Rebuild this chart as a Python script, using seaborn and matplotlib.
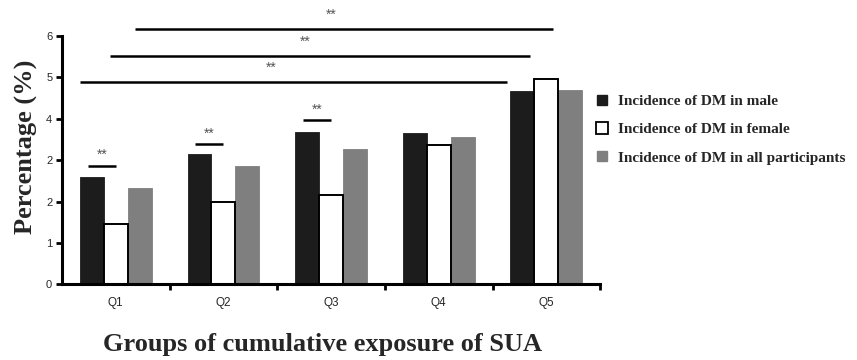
import matplotlib
matplotlib.use('Agg')
import matplotlib.pyplot as plt
import seaborn as sns
import pandas as pd
from matplotlib.lines import Line2D

groups = ['Q1', 'Q2', 'Q3', 'Q4', 'Q5']
series = ['Incidence of DM in male', 'Incidence of DM in female',
          'Incidence of DM in all participants']
male = [2.60, 3.15, 3.69, 3.66, 4.66]
female = [1.46, 2.00, 2.16, 3.36, 4.95]
allp = [2.33, 2.86, 3.28, 3.57, 4.70]
ytick_vals = [0, 1, 2, 3, 4, 5, 6]
ytick_labels = ['0', '1', '2', '2', '4', '5', '6']
xlabel = 'Groups of cumulative exposure of SUA'
ylabel = 'Percentage (%)'

# within-group significance (group index, bracket height)
within_sig = [(0, 2.87), (1, 3.38), (2, 3.96)]
# across-group significance (x start, x end, height, star x)
across_sig = [(-0.33, 3.63, 4.89, 1.44), (-0.05, 3.85, 5.52, 1.76),
              (0.18, 4.06, 6.17, 2.00)]

rows = []
for s, vals in zip(series, [male, female, allp]):
    for g, v in zip(groups, vals):
        rows.append({'group': g, 'series': s, 'value': v})
df = pd.DataFrame(rows)

sns.set_style('ticks')
fig = plt.figure(figsize=(8.57, 3.6), dpi=100)
ax = fig.add_axes([0.0723, 0.21, 0.628, 0.69])

fills = ['#1c1c1c', '#ffffff', '#7f7f7f']
edges = ['#1c1c1c', '#000000', '#7f7f7f']
sns.barplot(data=df, x='group', y='value', hue='series', order=groups,
            hue_order=series, palette=fills, width=0.667, legend=False,
            errorbar=None, ax=ax, saturation=1)
for i, (cont, ec) in enumerate(zip(ax.containers, edges)):
    for bar in cont:
        bar.set_edgecolor(ec)
        bar.set_linewidth(1.4 if i == 1 else 0.6)
        bar.set_zorder(3 if i == 1 else 2)

ax.set_xlim(-0.5, 4.5)
ax.set_ylim(0, 6)
ax.set_yticks(ytick_vals)
ax.set_yticklabels(ytick_labels, fontsize=8, family='Liberation Sans')
ax.set_xticks(range(len(groups)))
ax.set_xticklabels(groups, fontsize=8.5, family='Liberation Sans')
ax.set_xticks([0.5, 1.5, 2.5, 3.5, 4.5], minor=True)
ax.tick_params(axis='x', which='major', length=0, pad=9)
ax.tick_params(axis='x', which='minor', length=4, width=2, direction='out', color='black')
ax.tick_params(axis='y', length=4, width=2, pad=3, color='black')
for sp in ['top', 'right']:
    ax.spines[sp].set_visible(False)
for sp in ['left', 'bottom']:
    ax.spines[sp].set_linewidth(2.2)
    ax.spines[sp].set_color('black')
    ax.spines[sp].set_zorder(4)
ax.spines['left'].set_bounds(0, 6)

ax.set_xlabel('')
ax.set_ylabel('')
fig.text(0.376, 0.042, xlabel, ha='center', va='center', fontsize=19,
         fontweight='bold', family='Liberation Serif')
fig.text(0.031, 0.593, ylabel, ha='center', va='center', rotation=90,
         fontsize=19, fontweight='bold', family='Liberation Serif')

for gi, h in within_sig:
    ax.plot([gi - 0.26, gi + 0.0], [h, h], color='black', lw=1.8,
            solid_capstyle='butt', clip_on=False)
    ax.text(gi - 0.13, h + 0.1, '**', ha='center', va='bottom', fontsize=10,
            color='#555555', family='Liberation Sans')
for x0, x1, h, sx in across_sig:
    ax.plot([x0, x1], [h, h], color='black', lw=1.8, solid_capstyle='butt',
            clip_on=False)
    ax.text(sx, h + 0.17, '**', ha='center', va='bottom',
            fontsize=10, color='#555555', family='Liberation Sans')

handles = [
    Line2D([], [], marker='s', linestyle='', markersize=7,
           markerfacecolor=fills[0], markeredgecolor=edges[0]),
    Line2D([], [], marker='s', linestyle='', markersize=8,
           markerfacecolor='white', markeredgecolor='black', markeredgewidth=1.3),
    Line2D([], [], marker='s', linestyle='', markersize=7,
           markerfacecolor=fills[2], markeredgecolor=edges[2]),
]
fig.legend(handles, series, loc='center left', bbox_to_anchor=(0.677, 0.64),
           frameon=False, handlelength=1.0, handletextpad=0.6, labelspacing=0.95,
           prop={'family': 'Liberation Serif', 'weight': 'bold', 'size': 11})

fig.savefig('out.png', dpi=100)
